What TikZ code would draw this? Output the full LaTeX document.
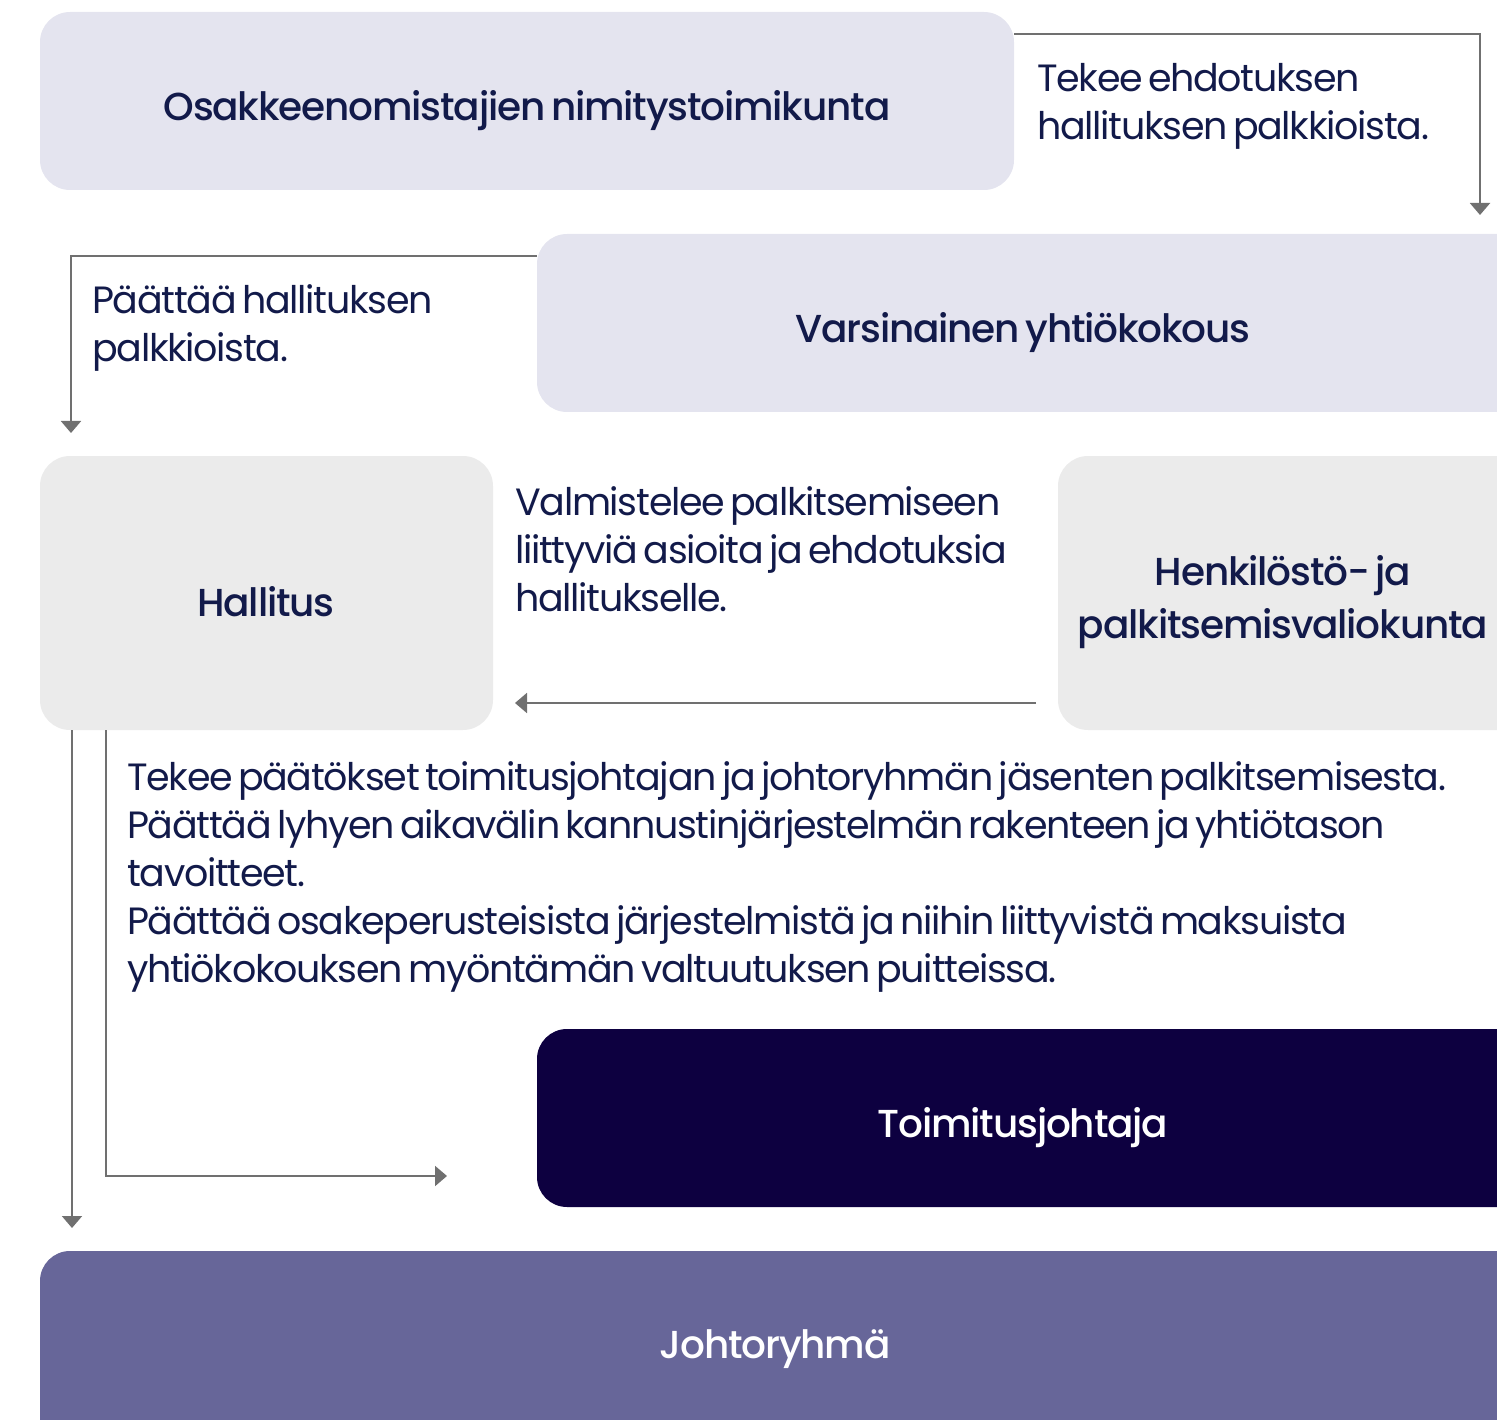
\documentclass[tikz,border=0pt]{standalone}
\usepackage{fontspec}
\setmainfont{Poppins}[LetterSpace=-3.4, WordSpace=0.6]
\newfontfamily\medfont{Poppins Medium}[LetterSpace=-3.0, WordSpace=0.6]
\usetikzlibrary{arrows.meta}
\definecolor{txt}{RGB}{18,26,74}
\definecolor{lav}{RGB}{228,228,239}
\definecolor{gry}{RGB}{235,235,235}
\definecolor{navy}{RGB}{13,0,64}
\definecolor{purp}{RGB}{103,102,153}
\definecolor{ln}{RGB}{112,112,112}
\tikzset{
  box/.style={rounded corners=30pt, inner sep=0pt},
  lbl/.style={font=\fontsize{39}{53}\selectfont\medfont, text=txt, align=center, inner sep=0pt, yshift=-4pt},
  body/.style={font=\fontsize{38}{48}\selectfont, text=txt, align=left, inner sep=0pt, anchor=base west},
  conn/.style={draw=ln, line width=2pt, -{Triangle[width=20pt,length=12pt]}},
}
\begin{document}
\begin{tikzpicture}[x=1pt,y=-1pt]
\useasboundingbox (0,0) rectangle (1497,1420);
\clip (0,0) rectangle (1497,1420);
% boxes
\fill[lav, box] (40,12) rectangle (1014,190);
\fill[lav, box] (537,234) rectangle (1530,412);
\fill[gry, box] (40,456) rectangle (493,730);
\fill[gry, box] (1058,456) rectangle (1530,730);
\fill[navy, box] (537,1029) rectangle (1530,1207);
\fill[purp, box] (40,1251) rectangle (1530,1460);
% labels
\node[lbl] (osak) at (527,107) {Osakkeenomistajien nimitystoimikunta};
\node[lbl] (vars) at (1023,329) {Varsinainen yhtiökokous};
\node[lbl] (hall) at (266,598) {Hallitus};
\node[lbl] (henk) at (1283,598) {Henkilöstö- ja\\palkitsemisvaliokunta};
\node[lbl, text=white] (toim) at (1023,1124) {Toimitusjohtaja};
\node[lbl, text=white] (joht) at (775,1345) {Johtoryhmä};
% body texts (anchor = baseline of last line)
\node[body] (t1) at (1037,140) {Tekee ehdotuksen\\hallituksen palkkioista.};
\node[body] (t2) at (92,362) {Päättää hallituksen\\palkkioista.};
\node[body] (t3) at (515,611) {Valmistelee palkitsemiseen\\liittyviä asioita ja ehdotuksia\\hallitukselle.};
\node[body] (t4) at (127,982) {Tekee päätökset toimitusjohtajan ja johtoryhmän jäsenten palkitsemisesta.\\Päättää lyhyen aikavälin kannustinjärjestelmän rakenteen ja yhtiötason\\tavoitteet.\\Päättää osakeperusteisista järjestelmistä ja niihin liittyvistä maksuista\\yhtiökokouksen myöntämän valtuutuksen puitteissa.};
% connectors
\coordinate (a1s) at (1014,34);
\coordinate (a1e) at (1480,215);
\draw[conn] (a1s) -| (a1e);
\coordinate (a2s) at (537,256);
\coordinate (a2e) at (71,433);
\draw[conn] (a2s) -| (a2e);
\coordinate (a3s) at (1036,703);
\coordinate (a3e) at (515,703);
\draw[conn] (a3s) -- (a3e);
\coordinate (a4s) at (72,730);
\coordinate (a4e) at (72,1228);
\draw[conn] (a4s) -- (a4e);
\coordinate (a5s) at (106,730);
\coordinate (a5e) at (447,1176);
\draw[conn] (a5s) |- (a5e);
\end{tikzpicture}
\end{document}
